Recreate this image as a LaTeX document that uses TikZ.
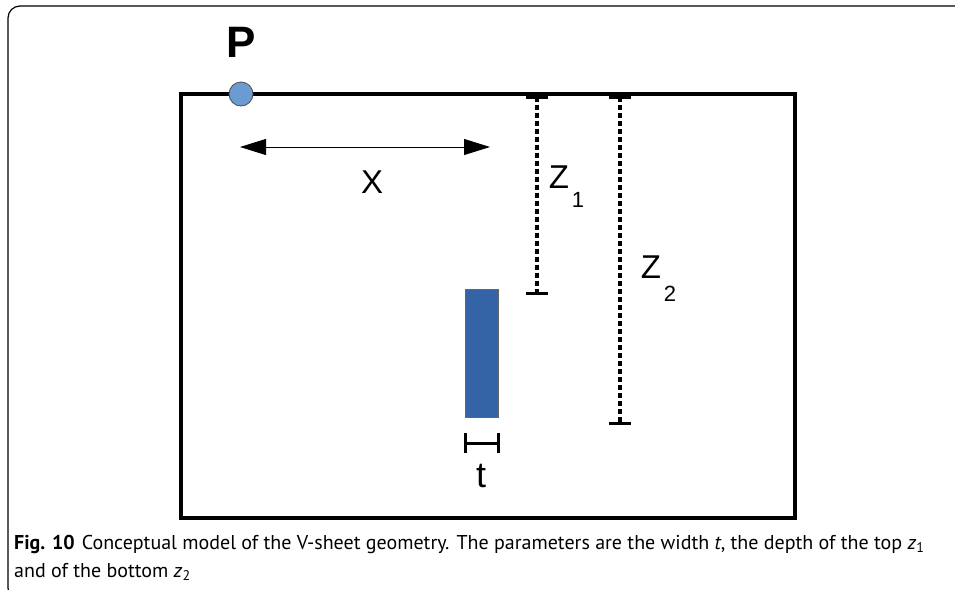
\documentclass[tikz,border=0pt]{standalone}
\usepackage{fontspec}
\setmainfont{PT Sans}
\newfontfamily\labfont{Liberation Sans}
\usetikzlibrary{arrows.meta}
\definecolor{pblue}{HTML}{6A9BD1}
\definecolor{sheet}{HTML}{3464A6}
\tikzset{
  frame/.style={line width=4pt},
  dotline/.style={line width=4.5pt, dash pattern=on 4.5pt off 3.5pt},
  tick/.style={line width=3pt},
  lab/.style={font=\labfont\fontsize{33}{33}\selectfont, inner sep=0pt},
  sub/.style={font=\labfont\fontsize{22}{22}\selectfont, inner sep=0pt},
  captext/.style={anchor=base west, inner sep=0pt, font=\fontsize{20}{20}\selectfont},
}
\begin{document}
\begin{tikzpicture}[x=1pt,y=-1pt]
\useasboundingbox (0,0) rectangle (955,589);
% outer figure frame
\draw[line width=1.2pt, rounded corners=12pt] (960,6) -- (8,6) -- (8,600) -- (960,600);
% main box
\draw[frame] (181,94) rectangle (795,518);
% point P
\node[circle, draw=black!70, fill=pblue, line width=0.8pt, minimum size=24pt, inner sep=0pt] (p) at (241,94) {};
\node[font=\labfont\bfseries\fontsize{44}{44}\selectfont, inner sep=0pt] (plab) at (241,42) {P};
% x arrow
\coordinate (xa) at (240,147);
\coordinate (xb) at (490,147);
\draw[line width=0.8pt, {Triangle[length=26pt,width=16pt]}-{Triangle[length=26pt,width=16pt]}] (xa) -- (xb);
\node[lab] (xlab) at (372,182) {X};
% z1
\coordinate (z1t) at (537,97);
\coordinate (z1b) at (537,293);
\draw[dotline] (z1t) -- (z1b);
\draw[tick] ([xshift=-11pt]z1t) -- ([xshift=11pt]z1t);
\draw[tick] ([xshift=-11pt]z1b) -- ([xshift=11pt]z1b);
\node[lab] (z1lab) at (559,177) {Z};
\node[sub] (z1s) at (578,200) {1};
% z2
\coordinate (z2t) at (620,97);
\coordinate (z2b) at (620,423);
\draw[dotline] (z2t) -- (z2b);
\draw[tick] ([xshift=-11pt]z2t) -- ([xshift=11pt]z2t);
\draw[tick] ([xshift=-11pt]z2b) -- ([xshift=11pt]z2b);
\node[lab] (z2lab) at (651,267) {Z};
\node[sub] (z2s) at (670,294) {2};
% sheet
\node[draw=black!60, fill=sheet, line width=0.6pt, minimum width=33pt, minimum height=128pt, inner sep=0pt] (sheet) at (481.5,353) {};
% t bracket
\coordinate (ta) at (465,443);
\coordinate (tb) at (498,443);
\draw[tick] (ta) -- (tb);
\draw[tick] ([yshift=-10pt]ta) -- ([yshift=10pt]ta);
\draw[tick] ([yshift=-10pt]tb) -- ([yshift=10pt]tb);
\node[font=\labfont\fontsize{36}{36}\selectfont, inner sep=0pt] (tlab) at (481,476) {t};
% caption
\node[captext] (cap1) at (14,549) {\textbf{Fig. 10}\hspace{7pt}Conceptual model of the V-sheet geometry. The parameters are the width \textit{t}, the depth of the top \textit{z}\textsubscript{1}};
\node[captext] (cap2) at (14,577) {and of the bottom \textit{z}\textsubscript{2}};
\end{tikzpicture}
\end{document}
